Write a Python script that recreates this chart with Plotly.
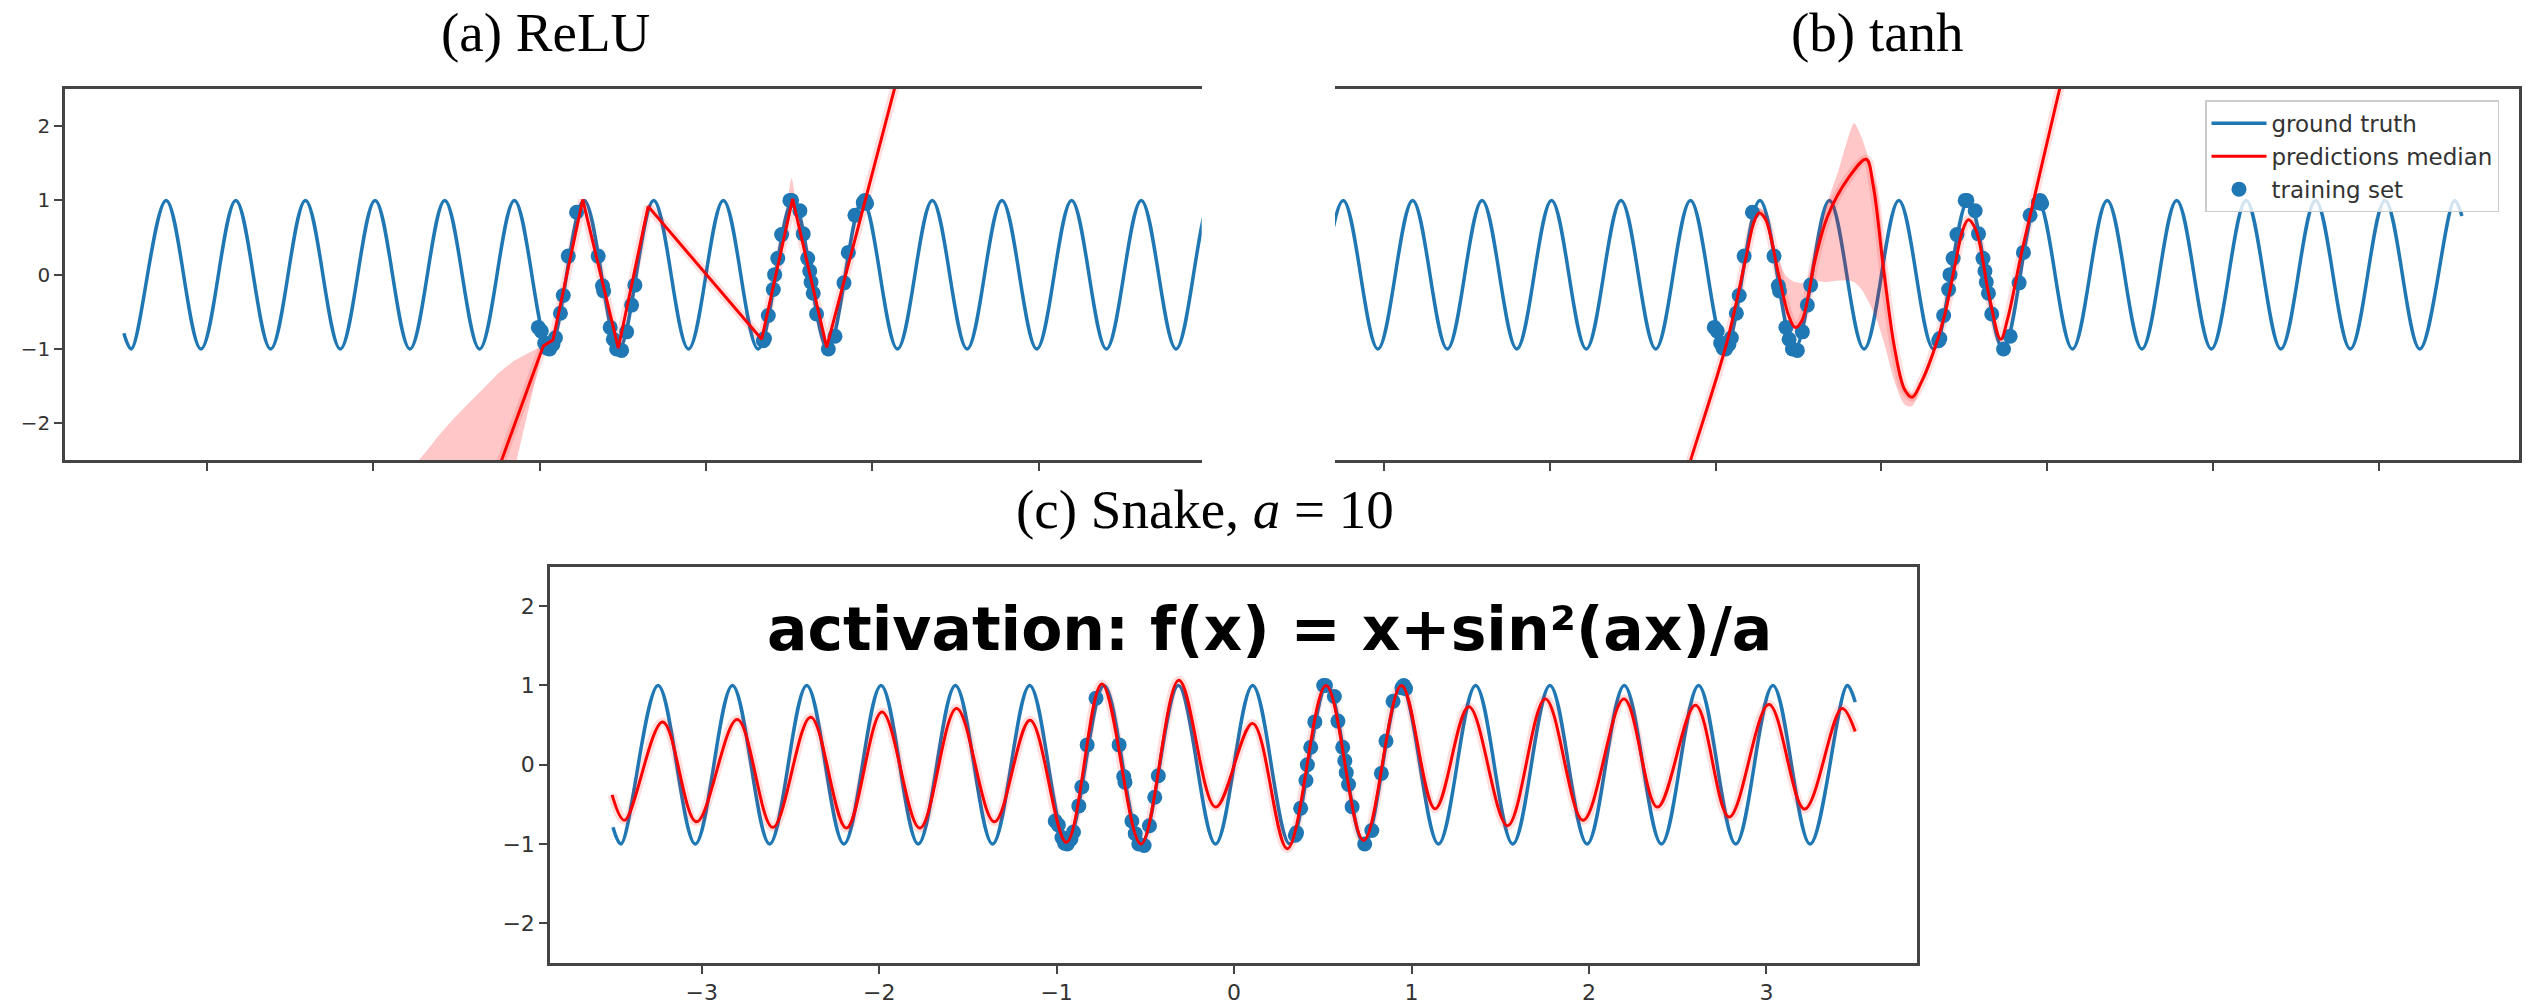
import plotly.graph_objects as go

W, H = 2526, 1005

# ---------------- data ----------------
# ground truth: end points and the extrema of the blue curve
truth_x = [-3.5, -3.4551, -3.2457, -3.0363, -2.8269, -2.6175, -2.4081, -2.1987,
           -1.9893, -1.7799, -1.5705, -1.3611, -1.1517, -0.9423, -0.7329, -0.5235,
           -0.3141, -0.1047, 0.1047, 0.3141, 0.5235, 0.7329, 0.9423, 1.1517,
           1.3611, 1.5705, 1.7799, 1.9893, 2.1987, 2.4081, 2.6175, 2.8269,
           3.0363, 3.2457, 3.4551, 3.5]
truth_y = [-0.79, -1, 1, -1, 1, -1, 1, -1,
           1, -1, 1, -1, 1, -1, 1, -1,
           1, -1, 1, -1, 1, -1, 1, -1,
           1, -1, 1, -1, 1, -1, 1, -1,
           1, -1, 1, 0.79]

# training set
train_x = [-1.008, -0.99, -0.97, -0.955, -0.94, -0.92, -0.905, -0.875, -0.858,
           -0.828, -0.778, -0.648, -0.622, -0.615, -0.576, -0.557, -0.537,
           -0.507, -0.477, -0.447, -0.427,
           0.345, 0.352, 0.375, 0.405, 0.413, 0.432, 0.455, 0.505, 0.515,
           0.565, 0.585, 0.612, 0.624, 0.632, 0.645, 0.665, 0.736, 0.776,
           0.83, 0.856, 0.896, 0.946, 0.956, 0.966]
train_y = [-0.71, -0.76, -0.92, -0.99, -1.0, -0.94, -0.85, -0.52, -0.28,
           0.25, 0.84, 0.25, -0.15, -0.22, -0.71, -0.87, -1.0,
           -1.02, -0.77, -0.41, -0.14,
           -0.89, -0.86, -0.55, -0.2, 0.0, 0.22, 0.54, 1.0, 1.0,
           0.86, 0.55, 0.22, 0.05, -0.1, -0.25, -0.53, -1.0, -0.83,
           -0.11, 0.3, 0.8, 0.97, 1.0, 0.96]

# (a) ReLU median prediction
relu_x = [-1.40, -0.978, -0.92, -0.741, -0.527, -0.347, 0.335, 0.521, 0.726, 1.20]
relu_y = [-3.55, -0.96, -0.88, 1.01, -0.99, 0.92, -0.87, 1.02, -0.98, 3.07]
relu_band_x = [-1.95, -1.72, -1.6, -1.479, -1.35, -1.239, -1.138, -1.018, -0.978]
relu_band_lo = [-12.0, -10.0, -9.0, -8.0, -6.5, -3.47, -2.5, -1.35, -0.96]
relu_band_hi = [-2.95, -2.48, -2.15, -1.85, -1.56, -1.31, -1.14, -1.0, -0.96]
relu_spike_x = [0.49, 0.515, 0.54]
relu_spike_lo = [0.9, 0.98, 0.9]
relu_spike_hi = [0.95, 1.3, 0.95]

# (b) tanh median prediction
tanh_x = [-1.30, -1.151, -0.932, -0.82, -0.77, -0.738, -0.70, -0.62, -0.56, -0.52,
          -0.48, -0.40, -0.325, -0.2, -0.092, -0.05, 0.015, 0.08, 0.14, 0.185,
          0.24, 0.306, 0.38, 0.442, 0.49, 0.524, 0.57, 0.65, 0.719, 0.76,
          0.85, 1.073, 1.25]
tanh_y = [-3.58, -2.5, -0.91, 0.2, 0.7, 0.83, 0.75, 0.0, -0.55, -0.71,
          -0.62, 0.2, 0.785, 1.3, 1.555, 1.2, 0.03, -1.0, -1.55, -1.65,
          -1.45, -1.09, -0.555, 0.115, 0.6, 0.74, 0.6, -0.3, -0.87, -0.6,
          0.35, 2.49, 4.2]
tanh_band_x = [-0.80, -0.74, -0.70, -0.64, -0.58, -0.52, -0.46, -0.40, -0.33,
               -0.26, -0.2, -0.165, -0.12, -0.07, -0.03, 0.02, 0.08, 0.14,
               0.185, 0.24, 0.30]
tanh_band_lo = [0.35, 0.80, 0.70, 0.1, -0.45, -0.72, -0.5, -0.1, -0.1,
                -0.08, -0.08, -0.1, -0.2, -0.4, -0.6, -0.95, -1.45, -1.75,
                -1.77, -1.5, -1.1]
tanh_band_hi = [0.4, 0.9, 0.82, 0.35, 0.0, -0.1, -0.1, 0.35, 0.95,
                1.4, 1.85, 2.04, 1.85, 1.5, 1.19, 0.2, -0.9, -1.5,
                -1.6, -1.4, -1.05]

# (c) Snake median prediction: end points and extrema
snake_x = [-3.505, -3.435, -3.22, -3.03, -2.80, -2.60, -2.386, -2.185, -1.984,
           -1.771, -1.564, -1.351, -1.15, -0.945, -0.745, -0.525, -0.311,
           -0.104, 0.104, 0.30, 0.518, 0.73, 0.943, 1.133, 1.323, 1.541,
           1.754, 1.967, 2.197, 2.386, 2.6, 2.79, 3.014, 3.215, 3.425, 3.5]
snake_y = [-0.38, -0.70, 0.54, -0.72, 0.57, -0.79, 0.60, -0.80, 0.665,
           -0.80, 0.71, -0.72, 0.56, -0.98, 1.02, -1.0, 1.065,
           -0.535, 0.52, -1.06, 1.0, -0.955, 1.0, -0.556, 0.73, -0.77,
           0.83, -0.70, 0.83, -0.535, 0.75, -0.66, 0.76, -0.56, 0.71, 0.42]

x_ticks = [-3, -2, -1, 0, 1, 2, 3]
y_ticks = [-2, -1, 0, 1, 2]

titles = ["(a) ReLU", "(b) tanh", "(c) Snake, <i>a</i> = 10"]
formula = "activation: f(x) = x+sin²(ax)/a"

# ---------------- styles ----------------
BLUE = "#1f77b4"
RED = "#ff0000"
BAND = "rgba(255,0,0,0.22)"
HALO = "rgba(255,0,0,0.13)"
SPINE = "#444444"
TXT = "#333333"

fig = go.Figure()


def add_panel(k, pred_x, pred_y, pred_shape, bands, legend):
    xa = "x" if k == 1 else "x%d" % k
    ya = "y" if k == 1 else "y%d" % k
    fig.add_trace(go.Scatter(x=truth_x, y=truth_y, mode="lines", xaxis=xa, yaxis=ya,
                             line=dict(color=BLUE, width=3.5, shape="spline", smoothing=1),
                             name="ground truth", showlegend=legend, legendrank=1,
                             legendgroup="g1", hoverinfo="skip"))
    for bx, blo, bhi in bands:
        fig.add_trace(go.Scatter(x=bx, y=blo, mode="lines", xaxis=xa, yaxis=ya,
                                 line=dict(width=0, color=BAND, shape="spline", smoothing=0.8),
                                 showlegend=False, hoverinfo="skip"))
        fig.add_trace(go.Scatter(x=bx, y=bhi, mode="lines", xaxis=xa, yaxis=ya,
                                 line=dict(width=0, color=BAND, shape="spline", smoothing=0.8),
                                 fill="tonexty", fillcolor=BAND,
                                 showlegend=False, hoverinfo="skip"))
    ln_halo = dict(color=HALO, width=9, shape=pred_shape)
    ln = dict(color=RED, width=3, shape=pred_shape)
    if pred_shape == "spline":
        ln_halo["smoothing"] = 1
        ln["smoothing"] = 1
    fig.add_trace(go.Scatter(x=pred_x, y=pred_y, mode="lines", xaxis=xa, yaxis=ya,
                             line=ln_halo, showlegend=False, hoverinfo="skip"))
    fig.add_trace(go.Scatter(x=train_x, y=train_y, mode="markers", xaxis=xa, yaxis=ya,
                             marker=dict(color=BLUE, size=15, line=dict(width=0)),
                             name="training set", showlegend=legend, legendrank=3,
                             legendgroup="g3", hoverinfo="skip"))
    fig.add_trace(go.Scatter(x=pred_x, y=pred_y, mode="lines", xaxis=xa, yaxis=ya,
                             line=ln, name="predictions median", legendgroup="g2",
                             showlegend=legend, legendrank=2, hoverinfo="skip"))


add_panel(1, relu_x, relu_y, "linear",
          [(relu_band_x, relu_band_lo, relu_band_hi),
           (relu_spike_x, relu_spike_lo, relu_spike_hi)], False)
add_panel(2, tanh_x, tanh_y, "spline",
          [(tanh_band_x, tanh_band_lo, tanh_band_hi)], True)
add_panel(3, snake_x, snake_y, "spline", [], False)


def px(v):
    return v / W


def py(v):
    return 1 - v / H


axis_common = dict(showgrid=False, zeroline=False, showline=True, linecolor=SPINE,
                   linewidth=2.5, ticks="outside", ticklen=8, tickwidth=2,
                   tickcolor=SPINE)

fig.update_layout(
    width=W, height=H, autosize=False,
    margin=dict(l=0, r=0, t=0, b=0, pad=0),
    paper_bgcolor="white", plot_bgcolor="white",
    xaxis=dict(axis_common, domain=[px(65), px(1201.7)], range=[-3.854, 2.981],
               anchor="y", mirror=True, tickvals=x_ticks, showticklabels=False),
    yaxis=dict(axis_common, domain=[py(461.7), py(89.3)], range=[-2.5, 2.5],
               anchor="x", tickvals=y_ticks,
               tickfont=dict(family="DejaVu Sans", size=20, color=TXT)),
    xaxis2=dict(axis_common, domain=[px(1335), px(2519)], range=[-3.295, 3.844],
                anchor="y2", mirror=True, tickvals=x_ticks, showticklabels=False),
    yaxis2=dict(axis_common, domain=[py(461.7), py(89.3)], range=[-2.5, 2.5],
                anchor="x2", side="right", ticks="", showticklabels=False),
    xaxis3=dict(axis_common, domain=[px(550), px(1917.3)], range=[-3.855, 3.85],
                anchor="y3", mirror=True, tickvals=x_ticks,
                tickfont=dict(family="DejaVu Sans", size=22, color=TXT)),
    yaxis3=dict(axis_common, domain=[py(965.7), py(568.3)], range=[-2.5, 2.5],
                anchor="x3", mirror=True, tickvals=y_ticks,
                tickfont=dict(family="DejaVu Sans", size=22, color=TXT)),
    legend=dict(x=px(2205), y=py(100.7), xanchor="left", yanchor="top",
                traceorder="normal",
                bgcolor="rgba(255,255,255,0.8)", bordercolor="#cccccc", borderwidth=1.5,
                font=dict(family="DejaVu Sans", size=23, color=TXT),
                itemwidth=55, tracegroupgap=3),
    showlegend=True,
)

ann_font = dict(family="Liberation Serif", size=55, color="black")
fig.add_annotation(text=titles[0], x=px(545), y=py(33), xref="paper", yref="paper",
                   showarrow=False, xanchor="center", yanchor="middle", font=ann_font)
fig.add_annotation(text=titles[1], x=px(1877), y=py(33), xref="paper", yref="paper",
                   showarrow=False, xanchor="center", yanchor="middle", font=ann_font)
fig.add_annotation(text=titles[2], x=px(1205), y=py(511), xref="paper", yref="paper",
                   showarrow=False, xanchor="center", yanchor="middle", font=ann_font)
fig.add_annotation(text="<b>" + formula + "</b>", x=px(1269.5), y=py(631),
                   xref="paper", yref="paper", showarrow=False,
                   xanchor="center", yanchor="middle",
                   font=dict(family="DejaVu Sans", size=60, color="black"))

fig.write_html("out.html")
